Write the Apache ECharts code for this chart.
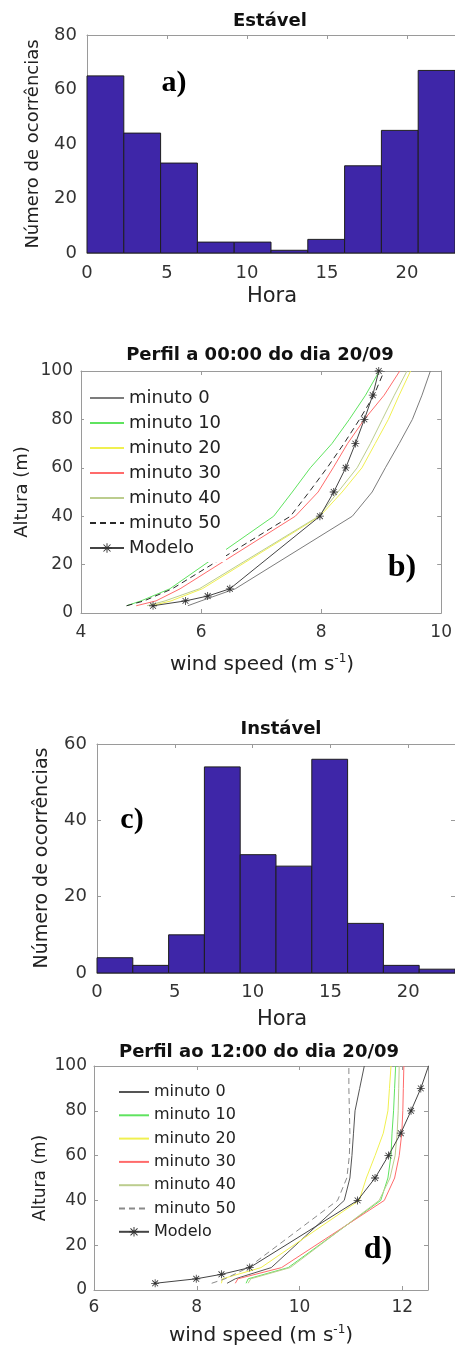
<!DOCTYPE html>
<html><head><meta charset="utf-8">
<script src="https://cdn.jsdelivr.net/npm/echarts@6/dist/echarts.min.js"></script>
<style>html,body{margin:0;padding:0;background:#fff}#c{width:455px;height:1348px}</style>
</head><body><div id="c"></div><script>
// ---------- data ----------
const binEdges = [0, 2.3, 4.6, 6.9, 9.2, 11.5, 13.8, 16.1, 18.4, 20.7, 23];
const estavelCounts = [65, 44, 33, 4, 4, 1, 5, 32, 45, 67];
const instavelCounts = [4, 2, 10, 54, 31, 28, 56, 13, 2, 1];

const obsHeights = [3, 5, 10, 40, 50, 60, 70, 80, 90, 100];
const modelHeights = [3, 5, 7, 10, 40, 50, 60, 70, 80, 90, 100];
const legendNames = ['minuto 0', 'minuto 10', 'minuto 20', 'minuto 30', 'minuto 40', 'minuto 50', 'Modelo'];

// Perfil a 00:00
const b_min0  = [5.78, 6.00, 6.57, 8.52, 8.85, 9.07, 9.30, 9.52, 9.68, 9.82];
const b_min10 = [4.76, 5.00, 5.48, 7.21, 7.52, 7.82, 8.18, 8.47, 8.74, 8.97];
const b_min20 = [5.18, 5.50, 6.02, 7.98, 8.35, 8.68, 8.90, 9.12, 9.30, 9.49];
const b_min30 = [4.92, 5.25, 5.65, 7.57, 7.95, 8.20, 8.44, 8.72, 9.05, 9.31];
const b_min40 = [5.10, 5.40, 5.97, 7.96, 8.28, 8.60, 8.82, 9.02, 9.22, 9.43];
const b_min50 = [4.76, 5.05, 5.52, 7.49, 7.80, 8.10, 8.38, 8.64, 8.88, 9.05];
const b_model = [5.20, 5.74, 6.11, 6.48, 7.98, 8.21, 8.41, 8.57, 8.72, 8.86, 8.96];

// Perfil ao 12:00
const d_min0  = [8.59, 8.75, 9.45, 10.87, 10.98, 11.02, 11.05, 11.08, 11.17, 11.26];
const d_min10 = [8.96, 9.00, 9.78, 11.58, 11.72, 11.78, 11.80, 11.83, 11.85, 11.87];
const d_min20 = [8.48, 8.50, 9.25, 11.16, 11.30, 11.47, 11.63, 11.72, 11.75, 11.78];
const d_min30 = [8.75, 8.80, 9.65, 11.65, 11.85, 11.94, 11.99, 12.01, 12.02, 12.03];
const d_min40 = [9.00, 9.05, 9.82, 11.55, 11.76, 11.86, 11.90, 11.92, 11.93, 11.94];
const d_min50 = [8.29, 8.55, 9.00, 10.74, 10.92, 10.97, 10.98, 10.97, 10.96, 10.96];
const d_model = [7.19, 7.99, 8.48, 9.03, 11.13, 11.47, 11.73, 11.97, 12.17, 12.36, 12.51];

// ---------- styles ----------
const FONT = 'DejaVu Sans';
const AXC = '#9a9a9a';
const LBL = '#333';
const BAR = '#3e26a8';
const STAR = 'path://M4.5,0L5.5,0L5.5,10L4.5,10Z M0,4.5L10,4.5L10,5.5L0,5.5Z M1,1.7L1.7,1L9,8.3L8.3,9Z M8.3,1L9,1.7L1.7,9L1,8.3Z';

function ax(gridIndex, min, max, interval, position, showLabel, fontSize, margin, hideMax) {
  return {
    type: 'value', gridIndex, min, max, interval, position,
    axisLine: { show: true, onZero: false, lineStyle: { color: AXC, width: 1 } },
    axisTick: { show: true, inside: true, length: 4, lineStyle: { color: AXC } },
    splitLine: { show: false },
    axisLabel: { show: showLabel, fontFamily: FONT, fontSize, color: LBL, margin, showMaxLabel: !hideMax }
  };
}

const grids = [
  { left: 87, top: 35, width: 368, height: 218 },
  { left: 81, top: 371, width: 363, height: 242 },
  { left: 97, top: 744, width: 367, height: 229 },
  { left: 94, top: 1066, width: 334, height: 224 }
];

const xAxes = [
  ax(0, 0, 23, 5, 'bottom', true, 18, 11, true),
  ax(0, 0, 23, 5, 'top', false, 18, 8, true),
  ax(1, 4, 10, 2, 'bottom', true, 17, 11, false),
  ax(1, 4, 10, 2, 'top', false, 17, 8, false),
  ax(2, 0, 23, 5, 'bottom', true, 18, 10, true),
  ax(2, 0, 23, 5, 'top', false, 18, 8, true),
  ax(3, 6, 12.5, 2, 'bottom', true, 17, 9, true),
  ax(3, 6, 12.5, 2, 'top', false, 17, 8, true)
];
const yAxes = [
  ax(0, 0, 80, 20, 'left', true, 18, 10, false),
  ax(0, 0, 80, 20, 'right', false, 18, 8, false),
  ax(1, 0, 100, 20, 'left', true, 17, 8, false),
  ax(1, 0, 100, 20, 'right', false, 17, 8, false),
  ax(2, 0, 60, 20, 'left', true, 18, 10, false),
  ax(2, 0, 60, 20, 'right', false, 18, 8, false),
  ax(3, 0, 100, 20, 'left', true, 17, 7, false),
  ax(3, 0, 100, 20, 'right', false, 17, 8, false)
];

function histSeries(counts, xi, yi) {
  return {
    type: 'custom', xAxisIndex: xi, yAxisIndex: yi, animation: false,
    encode: { x: [0, 1], y: 2 },
    data: counts.map((c, i) => [binEdges[i], binEdges[i + 1], c]),
    renderItem: function (params, api) {
      const p0 = api.coord([api.value(0), api.value(2)]);
      const p1 = api.coord([api.value(1), 0]);
      return { type: 'rect', shape: { x: p0[0], y: p0[1], width: p1[0] - p0[0], height: p1[1] - p0[1] },
        style: { fill: BAR, stroke: '#1e1e1e', lineWidth: 1 } };
    }
  };
}

function lineS(name, xs, hs, color, xi, yi, dashed) {
  return {
    type: 'line', name, xAxisIndex: xi, yAxisIndex: yi, animation: false,
    data: hs.map((h, i) => [xs[i], h]),
    symbol: 'none', showSymbol: false,
    lineStyle: { color, width: 1, type: dashed ? [6, 4] : 'solid' },
    itemStyle: { color }
  };
}
function modelS(name, xs, xi, yi) {
  return {
    type: 'line', name, xAxisIndex: xi, yAxisIndex: yi, animation: false,
    data: modelHeights.map((h, i) => [xs[i], h]),
    symbol: STAR, symbolSize: 8, showSymbol: true,
    lineStyle: { color: '#444', width: 1 }, itemStyle: { color: '#333' }, z: 3
  };
}

const bNames = legendNames.map(n => n);
const dNames = legendNames.map(n => n + '#d');

const series = [
  histSeries(estavelCounts, 0, 0),
  histSeries(instavelCounts, 4, 4),
  lineS(bNames[0], b_min0, obsHeights, '#7c7c7c', 2, 2, false),
  lineS(bNames[1], b_min10, obsHeights, '#5fe35f', 2, 2, false),
  lineS(bNames[2], b_min20, obsHeights, '#f0f050', 2, 2, false),
  lineS(bNames[3], b_min30, obsHeights, '#ff6b6b', 2, 2, false),
  lineS(bNames[4], b_min40, obsHeights, '#bccd8e', 2, 2, false),
  lineS(bNames[5], b_min50, obsHeights, '#2a2a2a', 2, 2, true),
  modelS(bNames[6], b_model, 2, 2),
  lineS(dNames[0], d_min0, obsHeights, '#555555', 6, 6, false),
  lineS(dNames[1], d_min10, obsHeights, '#5fe35f', 6, 6, false),
  lineS(dNames[2], d_min20, obsHeights, '#f0f050', 6, 6, false),
  lineS(dNames[3], d_min30, obsHeights, '#ff6b6b', 6, 6, false),
  lineS(dNames[4], d_min40, obsHeights, '#bccd8e', 6, 6, false),
  lineS(dNames[5], d_min50, obsHeights, '#8a8a8a', 6, 6, true),
  modelS(dNames[6], d_model, 6, 6)
];

function legendData(names) {
  return names.map((n, i) => i < names.length - 1 ? { name: n, itemStyle: { opacity: 0 } } : { name: n });
}

const legends = [
  { orient: 'vertical', left: 84, top: 384, padding: 5, itemGap: 7, itemWidth: 34, itemHeight: 12,
    backgroundColor: '#fff', selectedMode: false, data: legendData(bNames),
    textStyle: { fontFamily: FONT, fontSize: 18, color: '#222' } },
  { orient: 'vertical', left: 113, top: 1079, padding: 5, itemGap: 7.3, itemWidth: 30, itemHeight: 12,
    backgroundColor: '#fff', selectedMode: false, data: legendData(dNames),
    formatter: n => n.replace('#d', ''),
    textStyle: { fontFamily: FONT, fontSize: 16, color: '#222' } }
];

function txt(text, x, y, font, opts) {
  const o = Object.assign({ rotation: 0, fill: '#222' }, opts || {});
  return { type: 'text', x, y, rotation: o.rotation, z: 10,
    style: { text, font, fill: o.fill, align: 'center', verticalAlign: 'middle',
      textAlign: 'center', textVerticalAlign: 'middle', rich: o.rich } };
}
const windRich = { sup: { fontSize: 12, fontFamily: FONT, fill: '#222', verticalAlign: 'top', lineHeight: 24 },
                   n: { fontSize: 20, fontFamily: FONT, fill: '#222', lineHeight: 24 } };
const graphics = [
  txt('Estável', 270, 21, 'bold 18px "DejaVu Sans"', { fill: '#111' }),
  txt('Número de ocorrências', 33, 144, '18px "DejaVu Sans"', { rotation: Math.PI / 2 }),
  txt('Hora', 272, 297, '21px "DejaVu Sans"'),
  txt('a)', 174, 83, 'bold 30px "Liberation Serif"', { fill: '#000' }),

  txt('Perfil a 00:00 do dia 20/09', 260, 355, 'bold 18px "DejaVu Sans"', { fill: '#111' }),
  txt('Altura (m)', 22, 492, '18px "DejaVu Sans"', { rotation: Math.PI / 2 }),
  txt('{n|wind speed (m s}{sup|-1}{n|)}', 262, 665, '20px "DejaVu Sans"', { rich: windRich }),
  txt('b)', 402, 568, 'bold 32px "Liberation Serif"', { fill: '#000' }),

  txt('Instável', 281, 729, 'bold 18px "DejaVu Sans"', { fill: '#111' }),
  txt('Número de ocorrências', 42, 858, '19px "DejaVu Sans"', { rotation: Math.PI / 2 }),
  txt('Hora', 282, 1020, '21px "DejaVu Sans"'),
  txt('c)', 132, 820, 'bold 30px "Liberation Serif"', { fill: '#000' }),

  txt('Perfil ao 12:00 do dia 20/09', 259, 1052, 'bold 18px "DejaVu Sans"', { fill: '#111' }),
  txt('Altura (m)', 41, 1178, '17px "DejaVu Sans"', { rotation: Math.PI / 2 }),
  txt('{n|wind speed (m s}{sup|-1}{n|)}', 261, 1336, '20px "DejaVu Sans"', { rich: windRich }),
  txt('d)', 378, 1250, 'bold 32px "Liberation Serif"', { fill: '#000' })
];

const chart = echarts.init(document.getElementById('c'), null, { renderer: 'canvas' });
chart.setOption({
  backgroundColor: '#fff',
  animation: false,
  grid: grids,
  xAxis: xAxes,
  yAxis: yAxes,
  legend: legends,
  series,
  graphic: { elements: graphics }
});
</script></body></html>
